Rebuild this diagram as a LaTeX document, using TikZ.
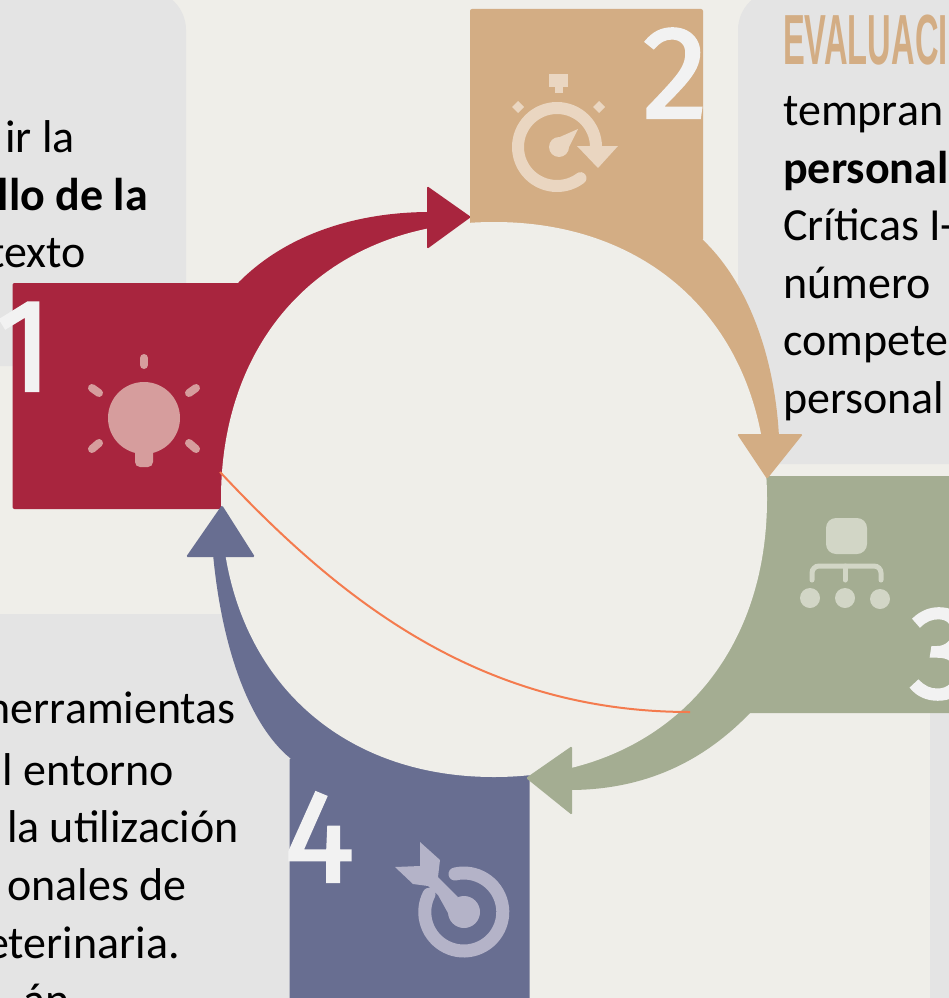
\documentclass[tikz,border=0pt]{standalone}
\usepackage{fontspec}
\setmainfont{Carlito}
\newfontfamily\numfont[FakeBold=1.8]{Fira Sans}
\newfontfamily\headfont{Liberation Sans}
\usetikzlibrary{positioning}
\definecolor{paper}{HTML}{EFEEE9}
\definecolor{panelgray}{HTML}{E4E4E4}
\definecolor{redbox}{HTML}{A8253E}
\definecolor{tanbox}{HTML}{D3AD84}
\definecolor{greenbox}{HTML}{A4AD92}
\definecolor{bluebox}{HTML}{686E91}
\definecolor{redicon}{HTML}{D69D9D}
\definecolor{tanicon}{HTML}{EAD6C1}
\definecolor{greenicon}{HTML}{D2D6C6}
\definecolor{blueicon}{HTML}{B4B3C8}
\definecolor{numwhite}{HTML}{F2F2F2}
\definecolor{thinline}{HTML}{F47B4E}
\tikzset{panel/.style={rectangle,fill=panelgray,anchor=north west,inner sep=0pt,outer sep=0pt},
         color box/.style={rectangle,rounded corners=2pt,anchor=north west,inner sep=0pt,outer sep=0pt},
         body text/.style={inner sep=0pt,font=\fontsize{46}{50}\selectfont,text=black},
         bold text/.style={body text,font=\fontsize{46}{50}\selectfont\bfseries},
         big num/.style={inner sep=0pt,text=numwhite,font=\numfont\fontsize{132}{132}\selectfont},
         head tip/.style={rounded corners=1.5pt},
}

\begin{document}
\begin{tikzpicture}[x=1pt,y=-1pt]

% \draw[help lines,step=100] (0,0) grid (949,998);

\path[use as bounding box] (0,0) rectangle (949,998);
\clip (0,0) rectangle (949,998);
\fill[paper] (0,0) rectangle (949,998);

\node[panel,rounded corners=40pt,minimum width=286pt,minimum height=376pt] (panel1) at (-100,-10){};
\node[panel,rounded corners=40pt,minimum width=311pt,minimum height=474pt] (panel2) at (738,-10){};
\node[panel,rounded corners=62pt,minimum width=417pt,minimum height=484pt] (panel4) at (-100,614){};
\node[panel,minimum width=60pt,minimum height=300pt] (panel3) at (930,713){};

\node[body text,anchor=base east] (t1a) at (75,152){ir la};
\node[bold text,anchor=base east] (t1b) at (148,210){llo de la};
\node[body text,anchor=base east] (t1c) at (86,267){texto};

\node[anchor=base west,inner sep=0pt,text=tanbox] (head2) at (783,65){\scalebox{.46}[1]{\headfont\bfseries\fontsize{71}{71}\selectfont EVALUACI}};
\node[body text,anchor=base west] (t2a) at (783,125){tempran};
\node[bold text,anchor=base west] (t2b) at (783,183){personal};
\node[body text,anchor=base west] (t2c) at (783,240){Críticas I-};
\node[body text,anchor=base west] (t2d) at (783,298){número};
\node[body text,anchor=base west] (t2e) at (783,355){compete};
\node[body text,anchor=base west] (t2f) at (783,413){personal};

\node[body text,anchor=base east] (t4a) at (236,723){herramientas};
\node[body text,anchor=base east] (t4b) at (174,785){l entorno};
\node[body text,anchor=base east] (t4c) at (239,842){la utilización};
\node[body text,anchor=base east] (t4d) at (187,900){onales de};
\node[body text,anchor=base east] (t4e) at (180,958){eterinaria.};
\node[body text,anchor=base east] (t4f) at (70,1015){án};

\node[color box,fill=redbox,minimum width=287pt,minimum height=226pt] (box1) at (12.5,283){};
\node[color box,fill=tanbox,minimum width=233pt,minimum height=232pt] (box2) at (470,9){};
\node[color box,fill=greenbox,minimum width=270pt,minimum height=237pt] (box3) at (700,476){};
\node[color box,fill=bluebox,minimum width=240pt,minimum height=260pt] (box4) at (289.5,758){};

% shafts, the ring cuts their inner side
\fill[redbox] (238,283) .. controls (285,235) and (355,212) .. (430,212) -- (430,245) -- (300,320) -- cycle;
\fill[tanbox] (703,240) .. controls (750,285) and (775,360) .. (779,437) -- (755,437) -- (650,300) -- (600,241) -- cycle;
\fill[greenbox] (750,713) .. controls (700,765) and (640,790) .. (569,790) -- (569,765) -- (650,700) -- (700,690) -- cycle;
\fill[bluebox] (290,758) .. controls (250,725) and (222,650) .. (213,554) -- (240,554) -- (350,700) -- (420,770) -- cycle;

\coordinate (ringE) at (767,499);
\coordinate (ringN) at (494,222);
\coordinate (ringW) at (221,499);
\coordinate (ringS) at (494,777);
\fill[paper] (ringE) .. controls +(0,-166) and +(164,0) .. (ringN)
    .. controls +(-164,0) and +(0,-166) .. (ringW)
    .. controls +(0,166) and +(-164,0) .. (ringS)
    .. controls +(164,0) and +(0,166) .. (ringE) -- cycle;

\coordinate (lineA) at (220,472);
\coordinate (lineB) at (690,712);
\draw[thinline,line width=2pt] (lineA) .. controls (340,600) and (480,712) .. (lineB);

\coordinate (tip1) at (471,217);
\coordinate (tip2) at (767,479);
\coordinate (tip3) at (526,778);
\coordinate (tip4) at (222,505);
\fill[redbox,head tip] (427,186) -- (tip1) -- (427,249) -- cycle;
\fill[tanbox,head tip] (737,434) -- (803,434) -- (tip2) -- cycle;
\fill[greenbox,head tip] (572,746) -- (tip3) -- (572,815) -- cycle;
\fill[bluebox,head tip] (186,557) -- (tip4) -- (255,557) -- cycle;

\node[big num,anchor=base east] (num1) at (53,391){1};
\node[big num,anchor=base east] (num2) at (708,118){2};
\node[big num,anchor=base west] (num3) at (909,698){3};
\node[big num,anchor=base west] (num4) at (284,882){4};

% bulb
\fill[redicon] (144,418) circle[radius=36];
\fill[redicon,rounded corners=5pt] (135,445) -- (153,445) -- (153,467) -- (135,467) -- cycle;
\draw[redicon,line width=8pt,line cap=round] (144,358) -- (144,365);
\foreach \xa/\ya/\xb/\yb in {196/388/189/393, 92/388/99/393, 92/449/99/443, 196/449/189/443}
    \draw[redicon,line width=8pt,line cap=round] (\xa,\ya) -- (\xb,\yb);

% stopwatch
\draw[tanicon,line width=12pt,line cap=round] (596,147) arc[start angle=0,end angle=-307,radius=39];
\fill[tanicon] (577,146) -- (618,146) -- (598,168) -- cycle;
\fill[tanicon] (559,147) circle[radius=10];
\fill[tanicon] (553,140) -- (578,129) -- (566,153) -- cycle;
\fill[tanicon] (549,74) rectangle (568,87);
\fill[tanicon] (555,87) rectangle (563,93);
\fill[tanicon] (518,101) -- (524,107) -- (518,113) -- (512,107) -- cycle;
\fill[tanicon] (599,101) -- (605,107) -- (599,113) -- (593,107) -- cycle;

% tree
\fill[greenicon,rounded corners=10pt] (826,518) rectangle (867,554);
\draw[greenicon,line width=5pt,line cap=round,rounded corners=7pt] (812,580) -- (812,566) -- (881,566) -- (881,580);
\draw[greenicon,line width=5pt,line cap=round] (845,566) -- (845,580);
\foreach \cx/\cy in {810/598, 845/598, 880/599}
    \fill[greenicon] (\cx,\cy) circle[radius=10];

% target
\draw[blueicon,line width=13pt,line cap=round] (455,874) arc[start angle=-103,end angle=207,radius=39];
\fill[blueicon] (464,912) circle[radius=16];
\fill[blueicon] (395,867) -- (420,866) -- (420,842) -- (440,860) -- (438,877) -- (458,897) -- (448,913) -- (438,895) -- (428,886) -- (413,884) -- cycle;

\end{tikzpicture}
\end{document}
